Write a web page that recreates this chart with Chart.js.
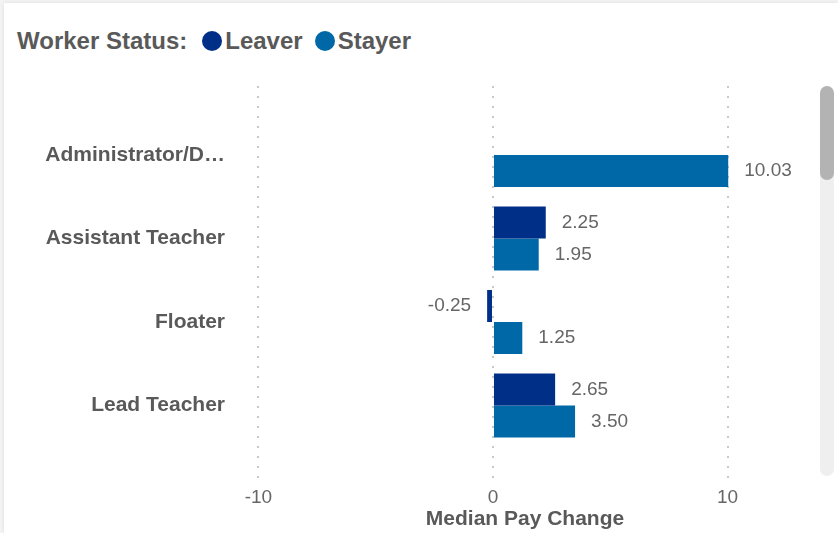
<!DOCTYPE html>
<html>
<head>
<meta charset="utf-8">
<script src="https://cdn.jsdelivr.net/npm/chart.js@4/dist/chart.umd.min.js"></script>
<style>
  html, body { margin: 0; padding: 0; background: #f4f4f4; }
  #wrap { position: relative; width: 838px; height: 533px; overflow: hidden; }
  #card {
    position: absolute; left: 4px; top: 3px; width: 834px; height: 530px;
    background: #fff; box-shadow: 0 0 4px rgba(0, 0, 0, 0.10);
  }
  #legend {
    position: absolute; left: 17px; top: 27px; display: flex; align-items: center;
    font: bold 24px "Liberation Sans", Arial, sans-serif; color: #595959; white-space: nowrap;
  }
  #legend .dot { display: inline-block; width: 20px; height: 20px; border-radius: 50%; margin-right: 3px; }
  #legend .title { margin-right: 15px; }
  #legend .item { display: flex; align-items: center; margin-right: 12px; }
  #track {
    position: absolute; left: 820px; top: 87px; width: 14px; height: 389px;
    background: #efefef; border-radius: 7px;
  }
  #thumb {
    position: absolute; left: 820px; top: 86px; width: 14px; height: 94px;
    background: #b3b3b3; border-radius: 7px;
  }
  canvas { position: absolute; left: 0; top: 0; }
</style>
</head>
<body>
<div id="wrap">
  <div id="card"></div>
  <div id="legend"></div>
  <div id="track"></div>
  <div id="thumb"></div>
  <canvas id="chart" width="838" height="533"></canvas>
</div>
<script>
const categories = ["Administrator/D…", "Assistant Teacher", "Floater", "Lead Teacher"];
const seriesNames = ["Leaver", "Stayer"];
const seriesColors = ["#002f87", "#0068a6"];
const leaver = [null, 2.25, -0.25, 2.65];
const stayer = [10.03, 1.95, 1.25, 3.5];
const xTicks = [-10, 0, 10];

const FONT = '"Liberation Sans", Arial, sans-serif';

// legend as plain html, Power BI style inline title
const legend = document.getElementById("legend");
legend.innerHTML = '<span class="title">Worker Status:</span>' +
  seriesNames.map((n, i) =>
    '<span class="item"><span class="dot" style="background:' + seriesColors[i] + '"></span>' + n + '</span>'
  ).join("");

// value labels next to bar ends
const valueLabels = {
  id: "valueLabels",
  afterDatasetsDraw(chart) {
    const ctx = chart.ctx;
    ctx.save();
    ctx.font = "19px " + FONT;
    ctx.fillStyle = "#666666";
    ctx.textBaseline = "middle";
    chart.data.datasets.forEach((ds, di) => {
      const meta = chart.getDatasetMeta(di);
      meta.data.forEach((bar, i) => {
        const v = ds.data[i];
        if (v === null || v === undefined) return;
        if (v >= 0) {
          ctx.textAlign = "left";
          ctx.fillText(v.toFixed(2), bar.x + 16, bar.y);
        } else {
          ctx.textAlign = "right";
          ctx.fillText(v.toFixed(2), bar.x - 16, bar.y);
        }
      });
    });
    ctx.restore();
  }
};

new Chart(document.getElementById("chart"), {
  type: "bar",
  data: {
    labels: categories.map((_, i) => i),
    datasets: [
      { label: seriesNames[0], data: leaver, backgroundColor: seriesColors[0] },
      { label: seriesNames[1], data: stayer, backgroundColor: seriesColors[1] }
    ]
  },
  options: {
    indexAxis: "y",
    responsive: false,
    animation: false,
    categoryPercentage: 0.766,
    barPercentage: 1,
    layout: { padding: { top: 86, right: 23, bottom: 0, left: 0 } },
    plugins: {
      legend: { display: false },
      tooltip: { enabled: false }
    },
    scales: {
      x: {
        type: "linear",
        min: -11,
        max: 13.73,
        afterBuildTicks: (s) => { s.ticks = xTicks.map((v) => ({ value: v })); },
        afterFit: (s) => { s.height = 55; },
        grid: { color: "#c8c8c8", lineWidth: 2, drawTicks: false },
        border: { display: false, dash: [2, 8] },
        ticks: { color: "#666666", font: { family: FONT, size: 19 }, padding: 8 },
        title: {
          display: true,
          text: "Median Pay Change",
          color: "#595959",
          font: { family: FONT, size: 21, weight: "bold" },
          padding: { top: 0, bottom: 1 }
        }
      },
      y: {
        type: "linear",
        reverse: true,
        offset: false,
        min: -0.826,
        max: 3.868,
        afterBuildTicks: (s) => { s.ticks = categories.map((_, i) => ({ value: i })); },
        afterFit: (s) => { s.width = 235; },
        grid: { display: false, offset: false },
        border: { display: false },
        ticks: {
          color: "#595959",
          font: { family: FONT, size: 21, weight: "bold" },
          padding: 2,
          callback: (v) => categories[v]
        }
      }
    }
  },
  plugins: [valueLabels]
});
</script>
</body>
</html>
